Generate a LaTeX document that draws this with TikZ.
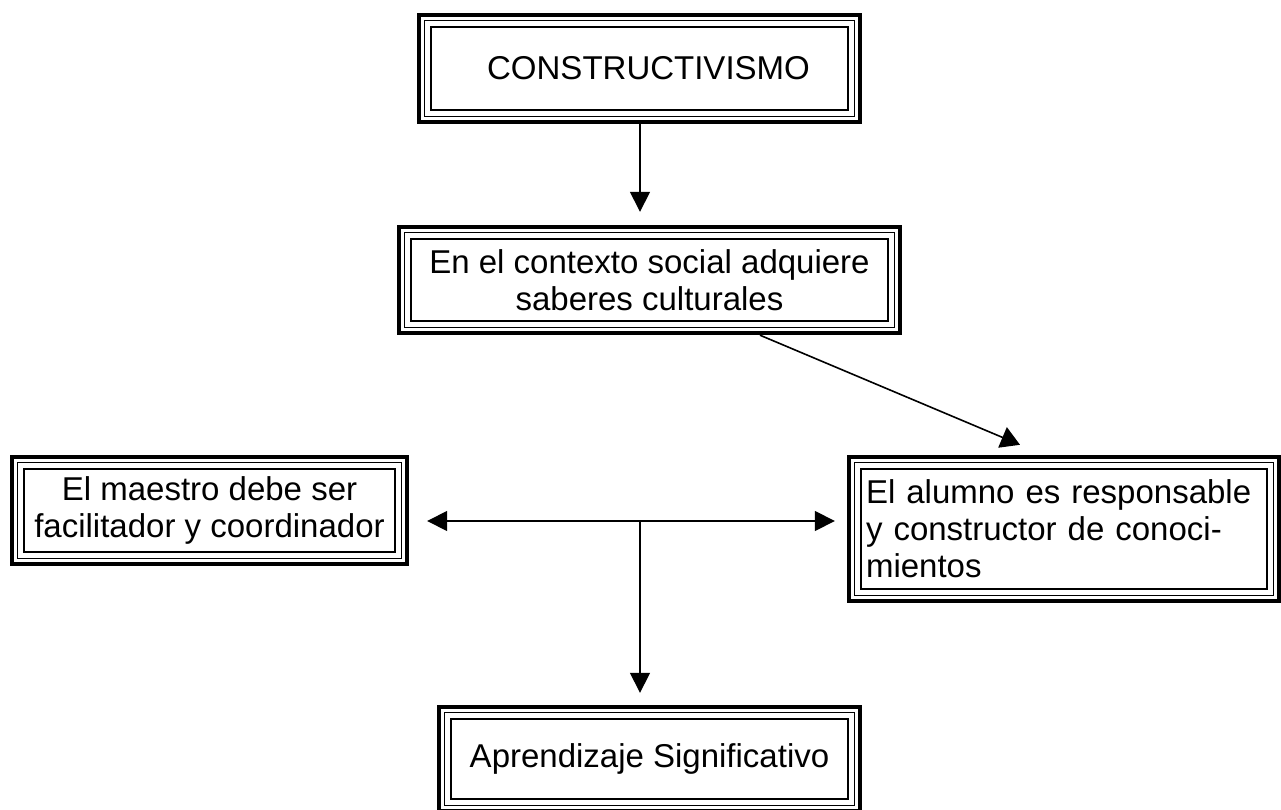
\documentclass[tikz,border=0pt]{standalone}
\usepackage{fontspec}
\setmainfont{Liberation Sans}
\usetikzlibrary{arrows.meta,calc}
\newcommand\triframe[1]{%
  \draw[line width=4.5] ([xshift=2.25,yshift=-2.25]#1.north west) rectangle ([xshift=-2.25,yshift=2.25]#1.south east);
  \draw[line width=1.5] ([xshift=7.5,yshift=-7.5]#1.north west) rectangle ([xshift=-7.5,yshift=7.5]#1.south east);
  \draw[line width=2.2] ([xshift=14,yshift=-14]#1.north west) rectangle ([xshift=-14,yshift=14]#1.south east);
}
\begin{document}
\begin{tikzpicture}[x=1pt,y=-1pt,
  box/.style={inner sep=0pt, align=center, font=\fontsize{33}{37}\selectfont},
  conn/.style={line width=1.6pt, -{Triangle[length=20pt,width=20pt]}}]
\useasboundingbox (0,0) rectangle (1281,810);
\node[box, minimum width=445pt, minimum height=111pt] (b1) at (639.5,68.5) {\hspace*{18pt}CONSTRUCTIVISMO};
\node[box, minimum width=505pt, minimum height=110pt] (b2) at (649.5,280) {En el contexto social adquiere\\saberes culturales};
\node[box, minimum width=399pt, minimum height=111pt] (b3) at (209.5,510.5) {El maestro debe ser\\facilitador y coordinador};
\node[box, minimum width=434pt, minimum height=148pt, text width=396pt, align=left] (b4) at (1064,529) {El alumno es responsable\\\makebox[396pt][s]{y constructor de conoci-}\\mientos};
\node[box, minimum width=425pt, minimum height=108pt] (b5) at (649.5,759) {Aprendizaje Significativo};
\triframe{b1}
\triframe{b2}
\triframe{b3}
\triframe{b4}
\triframe{b5}
\coordinate (J) at (640,521);
\draw[conn] (640,124) coordinate (t1) -- ([yshift=13pt]t1 |- b2.north);
\draw[conn, -{Triangle[length=19pt,width=22pt]}] ([xshift=110.5pt]b2.south) -- ([xshift=-44pt,yshift=10pt]b4.north);
\draw[conn] (J) -- ([xshift=18pt]J -| b3.east);
\draw[conn] (J) -- ([xshift=-12pt]J -| b4.west);
\draw[conn] (J) -- ([yshift=12pt]J |- b5.north);
\end{tikzpicture}
\end{document}
